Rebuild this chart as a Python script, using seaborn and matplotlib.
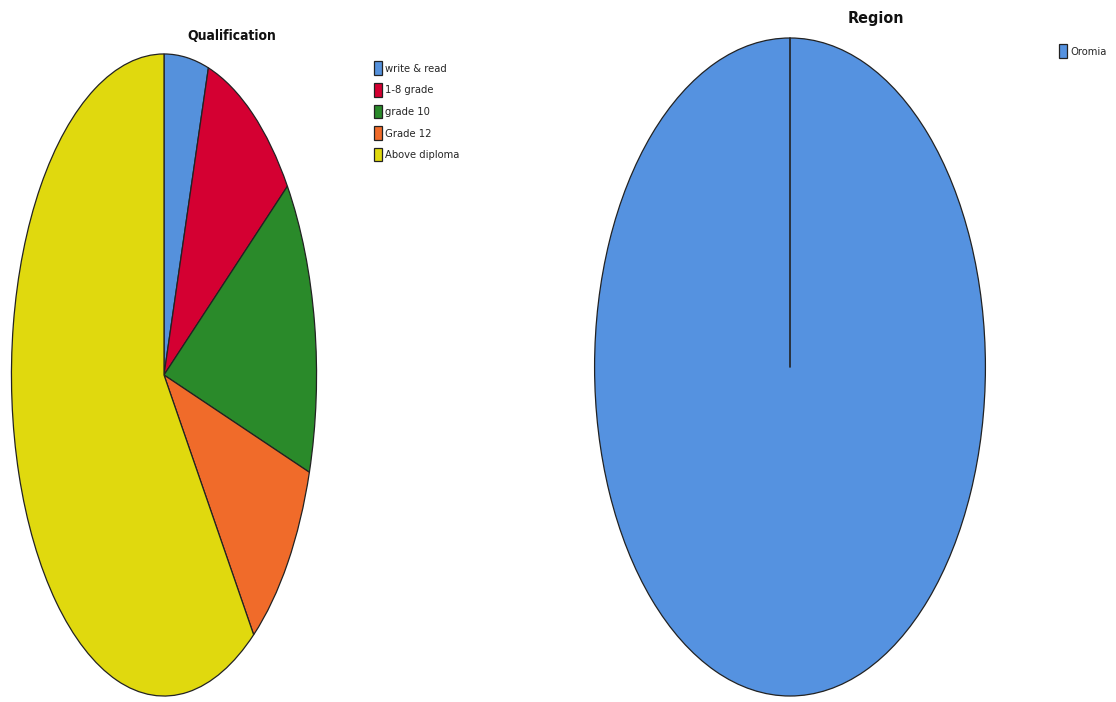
import matplotlib
matplotlib.use("Agg")
import matplotlib.pyplot as plt
import seaborn as sns

sns.set_theme(style="white")
plt.rcParams['font.family'] = ['DejaVu Sans']
plt.rcParams['font.stretch'] = 'condensed'

# Data
qual_labels = ["write & read", "1-8 grade", "grade 10", "Grade 12", "Above diploma"]
qual_values = [4.7, 10.3, 14.9, 10.1, 60.0]
qual_colors = ["#5591dc", "#d40032", "#2a8a2a", "#f06b2a", "#e0d90e"]

region_labels = ["Oromia"]
region_values = [100]
region_colors = ["#5592e0"]

fig = plt.figure(figsize=(11.16, 7.02), dpi=100)
W, H = 1116, 702

# Left pie
ax1 = fig.add_axes([11 / W, 5 / H, 306 / W, 644 / H])
w1, _ = ax1.pie(qual_values, colors=qual_colors, startangle=90, counterclock=False,
                wedgeprops=dict(edgecolor="#222222", linewidth=0.9))
ax1.set_aspect('auto')
ax1.set_xlim(-1.003, 1.003)
ax1.set_ylim(-1.003, 1.003)
ax1.axis('off')

# Right pie
ax2 = fig.add_axes([594 / W, 5 / H, 392 / W, 660 / H])
w2, _ = ax2.pie(region_values, colors=region_colors, startangle=90, counterclock=False,
                wedgeprops=dict(edgecolor="#222222", linewidth=0.9))
ax2.plot([0, 0], [0, 1], color="#222222", linewidth=1.2)
ax2.set_aspect('auto')
ax2.set_xlim(-1.003, 1.003)
ax2.set_ylim(-1.003, 1.003)
ax2.axis('off')

# Titles
fig.text(232 / W, 1 - 36 / H, "Qualification", ha="center", va="center",
         fontsize=10, fontweight="bold", color="#111111", fontstretch="condensed")
fig.text(876 / W, 1 - 19 / H, "Region", ha="center", va="center",
         fontsize=11.5, fontweight="bold", color="#111111", fontstretch="condensed")

# Legends
legprops = dict(size=8, stretch="condensed")
leg1 = fig.legend(w1, qual_labels, loc="upper left", bbox_to_anchor=(370 / W, 1 - 57 / H),
                  frameon=False, prop=legprops, handlelength=0.65, handleheight=1.5,
                  handletextpad=0.3, labelspacing=0.72, borderaxespad=0)
leg2 = fig.legend(w2, region_labels, loc="upper left", bbox_to_anchor=(1055 / W, 1 - 40 / H),
                  frameon=False, prop=legprops, handlelength=0.65, handleheight=1.5,
                  handletextpad=0.3, borderaxespad=0)

fig.savefig("out.png", dpi=100)
